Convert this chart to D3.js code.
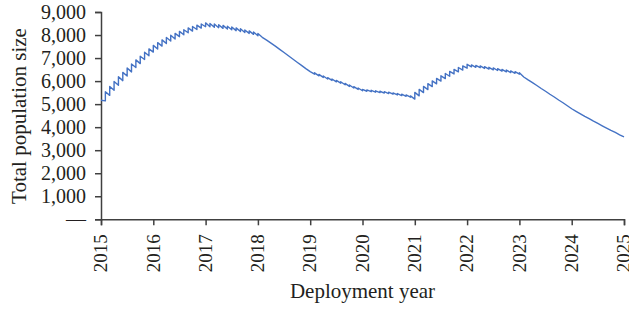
<!DOCTYPE html>
<html>
<head>
<meta charset="utf-8">
<script src="https://cdn.jsdelivr.net/npm/d3@7"></script>
<style>
  html, body { margin: 0; padding: 0; background: #ffffff; }
  svg { display: block; }
  text { font-family: "Liberation Serif", "Times New Roman", serif; fill: #231f20; }
</style>
</head>
<body>
<svg id="chart" width="629" height="313"></svg>
<script>
// ---- data ----
const startYear = 2015;            // first monthly sample
const stepsPerYear = 12;            // monthly samples
// value just before each monthly release (low) and just after it (high)
const lowValues = [
  5170,
  5140, 5380, 5600, 5820, 6020, 6220, 6400, 6590, 6760, 6940, 7100, 7260,
  7390, 7520, 7630, 7740, 7830, 7930, 8010, 8100, 8170, 8240, 8300, 8360,
  8360, 8340, 8320, 8290, 8260, 8230, 8190, 8150, 8110, 8070, 8030, 7970,
  7900, 7780, 7650, 7520, 7380, 7240, 7100, 6960, 6820, 6680, 6540, 6410,
  6300, 6230, 6160, 6090, 6030, 5970, 5910, 5840, 5770, 5700, 5640, 5580,
  5560, 5540, 5520, 5500, 5480, 5460, 5430, 5400, 5370, 5340, 5300, 5220,
  5360, 5500, 5630, 5760, 5880, 6000, 6110, 6210, 6310, 6400, 6480, 6560,
  6620, 6600, 6580, 6550, 6520, 6490, 6460, 6430, 6400, 6370, 6340, 6300,
  6180, 6050, 5930, 5810, 5680, 5560, 5430, 5310, 5180, 5060, 4930, 4800,
  4690, 4580, 4470, 4370, 4260, 4160, 4060, 3960, 3860, 3770, 3670, 3580
];
const highValues = [
  5170,
  5540, 5770, 5980, 6190, 6380, 6570, 6740, 6920, 7080, 7250, 7400, 7550,
  7670, 7790, 7890, 7990, 8070, 8160, 8230, 8310, 8370, 8430, 8480, 8530,
  8500, 8480, 8450, 8420, 8380, 8350, 8310, 8270, 8220, 8180, 8130, 8070,
  7900, 7780, 7650, 7520, 7380, 7240, 7100, 6960, 6820, 6680, 6540, 6410,
  6360, 6290, 6220, 6150, 6090, 6030, 5970, 5900, 5830, 5760, 5700, 5640,
  5620, 5600, 5580, 5560, 5540, 5520, 5490, 5460, 5430, 5400, 5360, 5510,
  5640, 5770, 5890, 6010, 6120, 6230, 6330, 6420, 6510, 6590, 6660, 6730,
  6700, 6680, 6660, 6630, 6600, 6570, 6540, 6510, 6480, 6440, 6410, 6360,
  6180, 6050, 5930, 5810, 5680, 5560, 5430, 5310, 5180, 5060, 4930, 4800,
  4690, 4580, 4470, 4370, 4260, 4160, 4060, 3960, 3860, 3770, 3670, 3580
];
const xTickValues = [2015, 2016, 2017, 2018, 2019, 2020, 2021, 2022, 2023, 2024, 2025];
const yTickValues = [0, 1000, 2000, 3000, 4000, 5000, 6000, 7000, 8000, 9000];
const yZeroLabel = "\u2014";
const xTitle = "Deployment year";
const yTitle = "Total population size";

// ---- layout ----
const svg = d3.select("#chart");
const x = d3.scaleLinear().domain([2015, 2025]).range([101, 624]);
const y = d3.scaleLinear().domain([0, 9000]).range([219.3, 12]);
const axisColor = "#404040";

// line points: sawtooth (decay, then jump at each release)
const pts = [];
lowValues.forEach((lo, i) => {
  const t = startYear + i / stepsPerYear;
  pts.push([t, lo]);
  if (highValues[i] !== lo) pts.push([t, highValues[i]]);
});

const line = d3.line().x(d => x(d[0])).y(d => y(d[1]));

// y axis
const yAxis = svg.append("g")
  .attr("transform", "translate(101,0)")
  .call(d3.axisLeft(y).tickValues(yTickValues).tickSize(6).tickPadding(9)
    .tickFormat(d => d === 0 ? yZeroLabel : d3.format(",")(d)));
yAxis.select(".domain").attr("stroke", axisColor).attr("stroke-width", 1.5);
yAxis.selectAll(".tick line").attr("stroke", axisColor).attr("stroke-width", 1.5);
yAxis.selectAll("text").attr("font-size", 20).attr("font-family", "Liberation Serif").attr("fill", "#231f20");

// x axis
const xAxis = svg.append("g")
  .attr("transform", "translate(0,219.3)")
  .call(d3.axisBottom(x).tickValues(xTickValues).tickSize(6).tickFormat(d3.format("d")));
xAxis.select(".domain").attr("stroke", axisColor).attr("stroke-width", 1.5);
xAxis.selectAll(".tick line").attr("stroke", axisColor).attr("stroke-width", 1.5);
xAxis.selectAll("text")
  .attr("font-size", 19).attr("font-family", "Liberation Serif").attr("fill", "#231f20")
  .attr("transform", "rotate(-90)")
  .attr("x", -15).attr("y", 0).attr("dy", "0.3em")
  .style("text-anchor", "end");

// data line
svg.append("path")
  .datum(pts)
  .attr("fill", "none")
  .attr("stroke", "#4472c4")
  .attr("stroke-width", 1.4)
  .attr("stroke-linejoin", "round")
  .attr("d", line);

// titles
svg.append("text")
  .attr("x", (x(2015) + x(2025)) / 2).attr("y", 298)
  .attr("text-anchor", "middle").attr("font-size", 21)
  .text(xTitle);
svg.append("text")
  .attr("transform", "translate(26," + 116 + ") rotate(-90)")
  .attr("text-anchor", "middle").attr("font-size", 21)
  .text(yTitle);
</script>
</body>
</html>
